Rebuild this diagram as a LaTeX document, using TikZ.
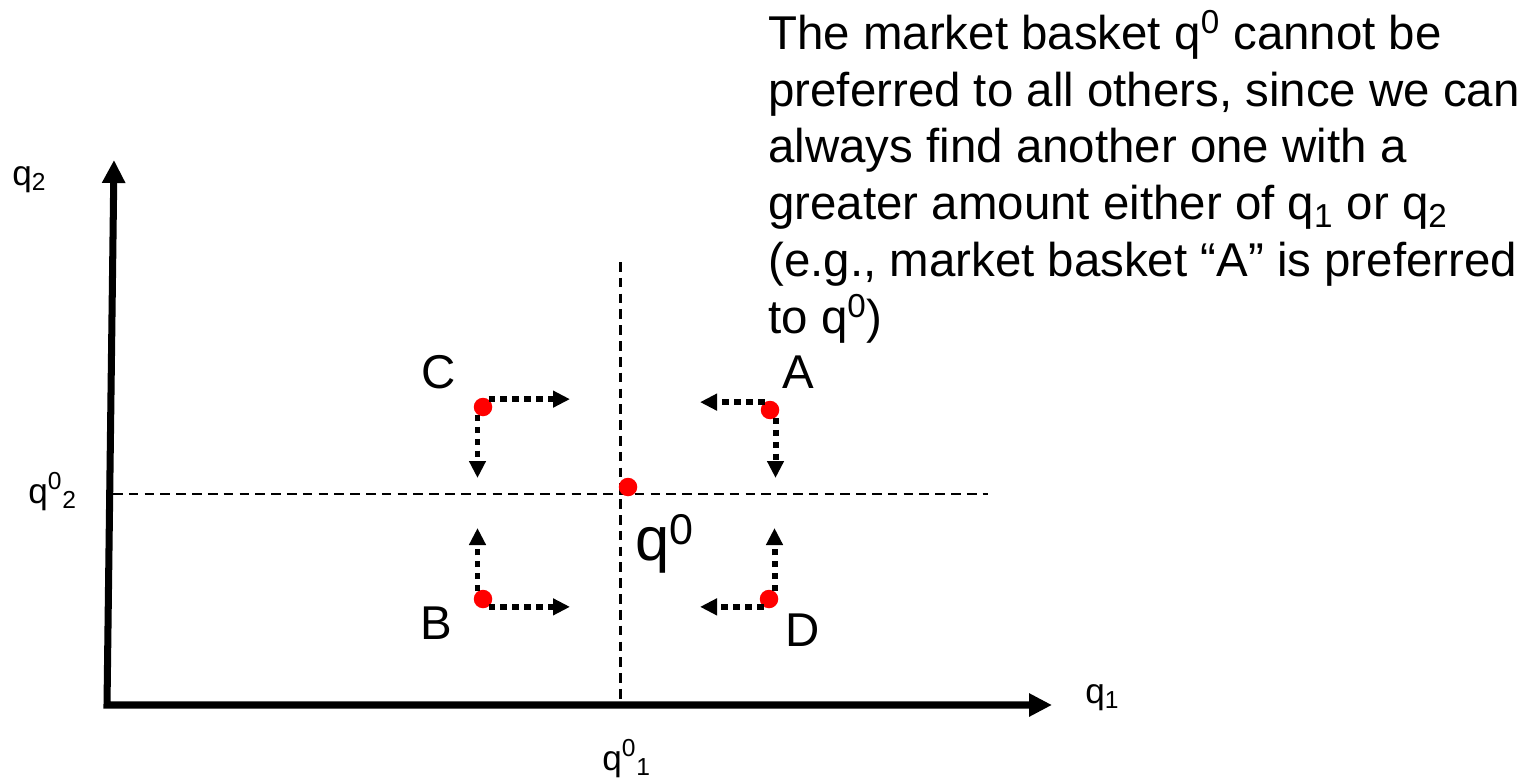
\documentclass[tikz,border=0pt]{standalone}
\usepackage{fontspec}
\setmainfont{Liberation Sans}
\usetikzlibrary{arrows.meta}
\begin{document}
\begin{tikzpicture}[x=0.02cm, y=-0.02cm, font=\fontsize{27}{32.3}\selectfont,
  axis/.style={line width=4pt, {Triangle[length=0.46cm, width=0.44cm]}-{Triangle[length=0.46cm, width=0.44cm]}},
  guide/.style={line width=1.7pt, dash pattern=on 5.5pt off 3.5pt},
  move/.style={line width=3.4pt, dash pattern=on 3.6pt off 3.2pt, -{Triangle[length=0.34cm, width=0.32cm]}},
  basket/.style={circle, fill=red, inner sep=0pt, minimum size=0.37cm},
  axlabel/.style={anchor=base west, inner sep=0pt, font=\fontsize{20}{24}\selectfont}]
  \useasboundingbox (0,0) rectangle (1531,784);
  % axes
  \coordinate (ytip) at (114,160);
  \coordinate (O) at (107,705);
  \coordinate (xtip) at (1052,705);
  \draw[axis] (ytip) -- (O) -- (xtip);
  \node[axlabel] (q2) at (12,185) {q\textsubscript{2}};
  \node[axlabel] (q1) at (1085,703) {q\textsubscript{1}};
  \node[axlabel] (q02) at (28,503) {q\textsuperscript{0}\textsubscript{2}};
  \node[axlabel] (q01) at (602,770) {q\textsuperscript{0}\textsubscript{1}};
  % guides through q0
  \coordinate (htop) at (620,262);
  \coordinate (hbot) at (620,700);
  \coordinate (vleft) at (113,494);
  \coordinate (vright) at (988,494);
  \draw[guide] (htop) -- (hbot);
  \draw[guide] (vleft) -- (vright);
  \node[basket] (q0) at (628,487) {};
  \node[anchor=base west, inner sep=0pt, font=\fontsize{35}{40}\selectfont] (q0lbl) at (635,560) {q\textsuperscript{0}};
  % other baskets
  \foreach \b/\x/\y in {C/483/407, A/770/410, B/483/599, D/769/599}
    \node[basket] (\b) at (\x,\y) {};
  \foreach \b/\ha/\hx/\va/\vy in {C/55/570/235/478, A/125/700/305/478, B/305/570/125/528, D/235/700/55/528}{
    \draw[move] (\b.\ha) -- (\hx,0 |- \b.\ha);
    \draw[move] (\b.\va) -- (\b.\va |- 0,\vy);
  }
  \node (lC) at (439,372) {C};
  \node (lA) at (798,372) {A};
  \node (lB) at (436,623) {B};
  \node (lD) at (803,630) {D};
  % explanation
  \node[anchor=north west, inner sep=0pt, align=left] (note) at (768,10)
    {The market basket q\textsuperscript{0} cannot be\\
     preferred to all others, since we can\\
     always find another one with a\\
     greater amount either of q\textsubscript{1} or q\textsubscript{2}\\
     (e.g., market basket “A” is preferred\\
     to q\textsuperscript{0})};
\end{tikzpicture}
\end{document}
